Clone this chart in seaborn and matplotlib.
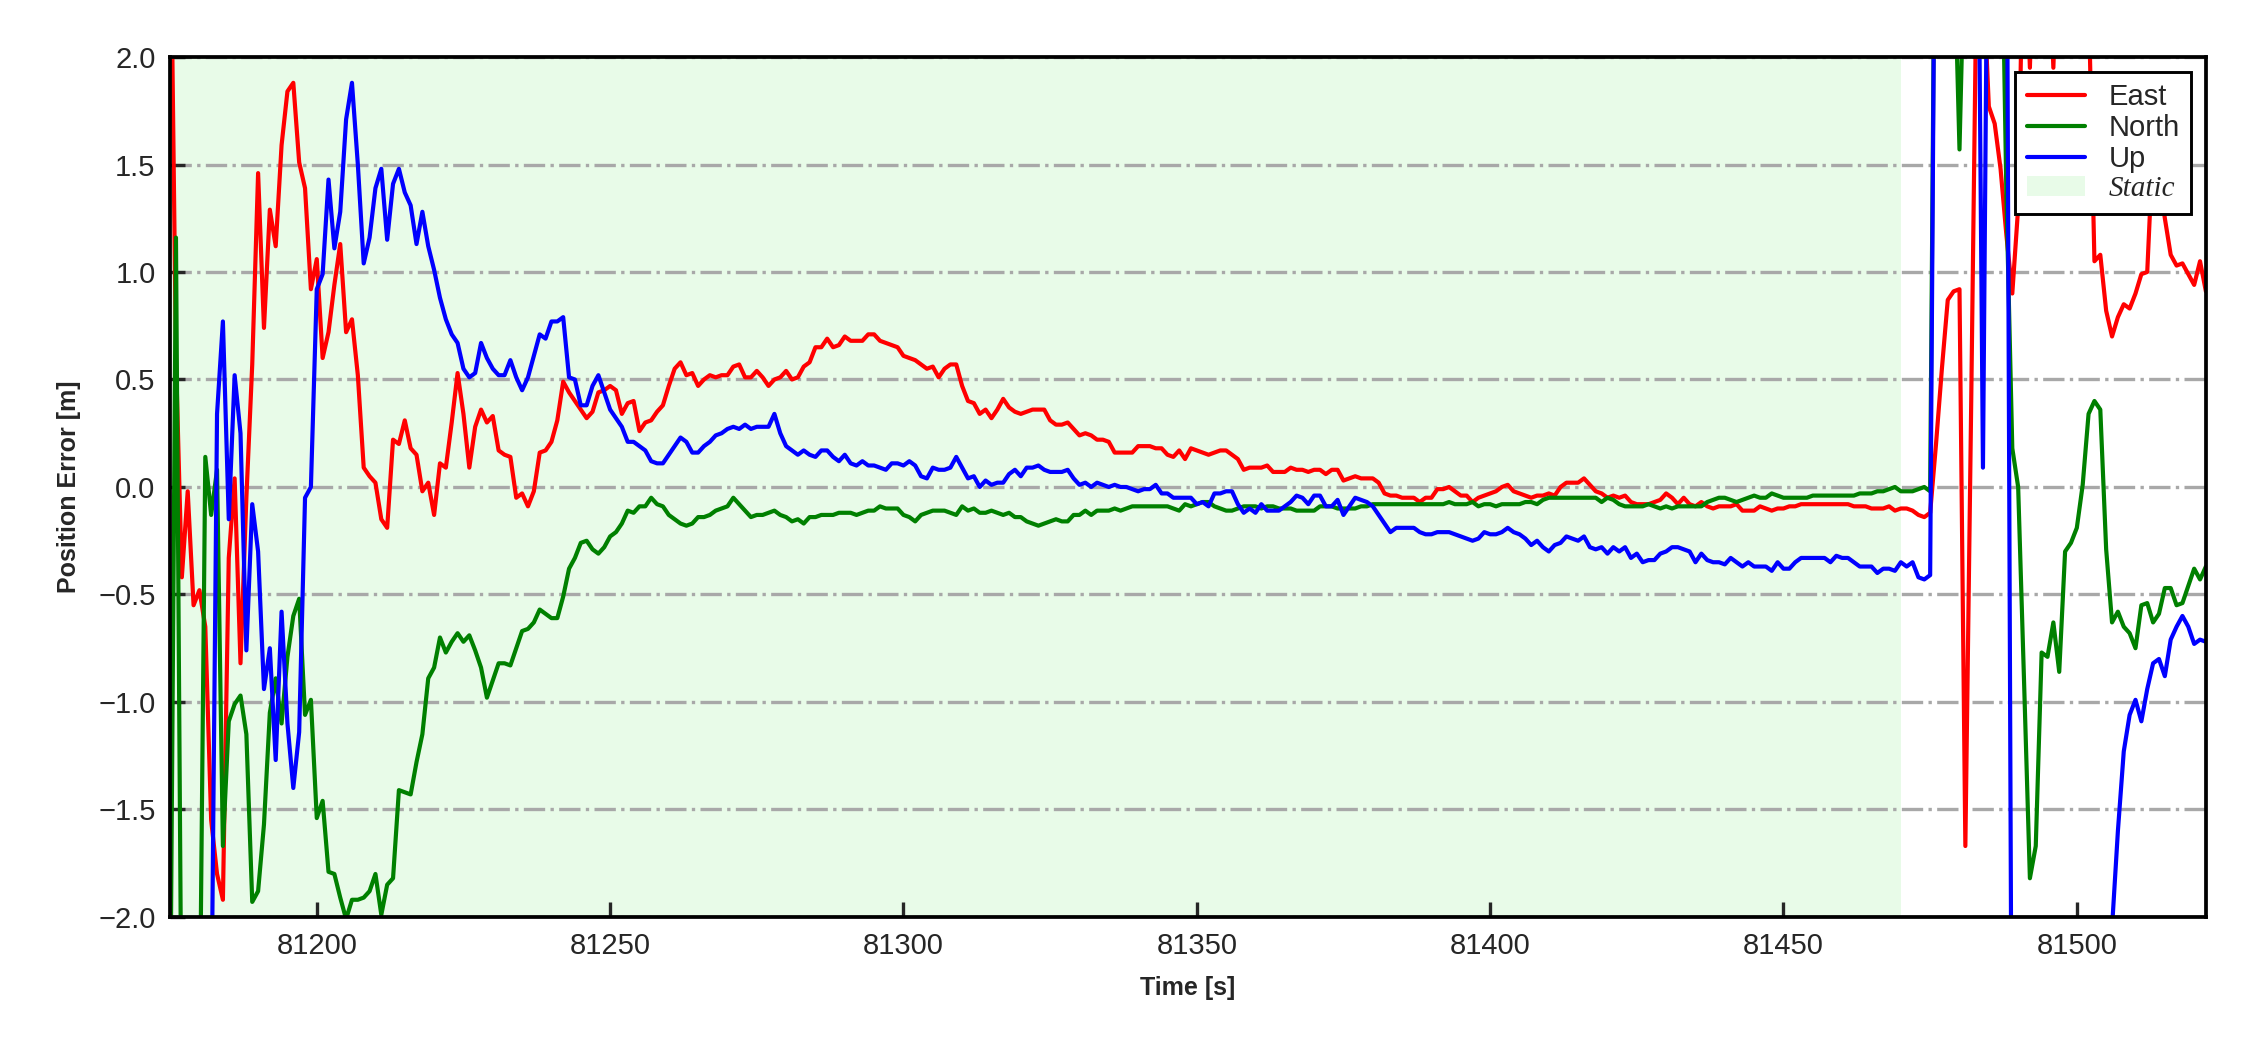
#%% import libraries
import numpy as np
import pandas as pd
import seaborn as sns
import matplotlib.pyplot as plt
from matplotlib.patches import Patch

#%% data (position error per epoch, 1 s sampling)
t_start, t_end = 81175, 81522
static_end = 81470
x_ticks = [81200, 81250, 81300, 81350, 81400, 81450, 81500]
y_ticks = [-2.0, -1.5, -1.0, -0.5, 0.0, 0.5, 1.0, 1.5, 2.0]

east = [
    2.90, 0.60, -0.42, -0.02, -0.55, -0.48, -0.65, -1.55, -1.80, -1.92,
    -0.33, 0.04, -0.82, -0.05, 0.57, 1.46, 0.74, 1.29, 1.12, 1.59,
    1.84, 1.88, 1.51, 1.39, 0.92, 1.06, 0.60, 0.72, 0.94, 1.13,
    0.72, 0.78, 0.52, 0.09, 0.05, 0.02, -0.15, -0.19, 0.22, 0.20,
    0.31, 0.18, 0.15, -0.02, 0.02, -0.13, 0.11, 0.09, 0.30, 0.53,
    0.34, 0.09, 0.28, 0.36, 0.30, 0.33, 0.17, 0.15, 0.14, -0.05,
    -0.03, -0.09, -0.02, 0.16, 0.17, 0.21, 0.31, 0.49, 0.44, 0.40,
    0.36, 0.32, 0.35, 0.44, 0.45, 0.47, 0.45, 0.34, 0.39, 0.40,
    0.26, 0.30, 0.31, 0.35, 0.38, 0.47, 0.55, 0.58, 0.52, 0.53,
    0.47, 0.50, 0.52, 0.51, 0.52, 0.52, 0.56, 0.57, 0.51, 0.51,
    0.54, 0.51, 0.47, 0.50, 0.51, 0.54, 0.50, 0.51, 0.56, 0.58,
    0.65, 0.65, 0.69, 0.65, 0.66, 0.70, 0.68, 0.68, 0.68, 0.71,
    0.71, 0.68, 0.67, 0.66, 0.65, 0.61, 0.60, 0.59, 0.57, 0.55,
    0.56, 0.51, 0.55, 0.57, 0.57, 0.47, 0.40, 0.39, 0.34, 0.36,
    0.32, 0.36, 0.41, 0.37, 0.35, 0.34, 0.35, 0.36, 0.36, 0.36,
    0.31, 0.29, 0.29, 0.30, 0.27, 0.24, 0.25, 0.24, 0.22, 0.22,
    0.21, 0.16, 0.16, 0.16, 0.16, 0.19, 0.19, 0.19, 0.18, 0.18,
    0.15, 0.14, 0.17, 0.13, 0.18, 0.17, 0.16, 0.15, 0.16, 0.17,
    0.17, 0.15, 0.13, 0.08, 0.09, 0.09, 0.09, 0.10, 0.07, 0.07,
    0.07, 0.09, 0.08, 0.08, 0.07, 0.08, 0.08, 0.06, 0.08, 0.08,
    0.03, 0.04, 0.05, 0.04, 0.04, 0.04, 0.02, -0.03, -0.04, -0.04,
    -0.05, -0.05, -0.05, -0.07, -0.05, -0.05, -0.01, -0.01, 0.00, -0.02,
    -0.04, -0.04, -0.07, -0.05, -0.04, -0.03, -0.02, 0.00, 0.01, -0.02,
    -0.03, -0.04, -0.05, -0.04, -0.04, -0.03, -0.04, 0.00, 0.02, 0.02,
    0.02, 0.04, 0.01, -0.02, -0.03, -0.05, -0.04, -0.05, -0.04, -0.07,
    -0.08, -0.08, -0.08, -0.07, -0.06, -0.03, -0.05, -0.08, -0.05, -0.08,
    -0.09, -0.07, -0.09, -0.10, -0.09, -0.09, -0.09, -0.08, -0.11, -0.11,
    -0.11, -0.09, -0.10, -0.11, -0.10, -0.10, -0.09, -0.09, -0.08, -0.08,
    -0.08, -0.08, -0.08, -0.08, -0.08, -0.08, -0.08, -0.09, -0.09, -0.09,
    -0.10, -0.10, -0.10, -0.09, -0.11, -0.10, -0.10, -0.11, -0.13, -0.14,
    -0.12, 0.20, 0.55, 0.87, 0.91, 0.92, -1.67, 0.40, 2.60, 2.40,
    1.77, 1.69, 1.48, 1.17, 0.90, 1.30, 2.80, 1.95, 2.90, 3.10,
    2.70, 1.95, 2.80, 3.00, 3.20, 2.90, 2.60, 2.30, 1.05, 1.08,
    0.82, 0.70, 0.79, 0.85, 0.83, 0.90, 0.99, 1.00, 1.60, 1.45,
    1.25, 1.08, 1.03, 1.04, 0.99, 0.94, 1.05, 0.91,
]

north = [
    -2.60, 1.16, -2.80, -3.00, -3.00, -2.70, 0.14, -0.13, 0.08, -1.67,
    -1.09, -1.01, -0.97, -1.15, -1.93, -1.88, -1.57, -1.05, -0.89, -1.10,
    -0.79, -0.60, -0.52, -1.06, -0.99, -1.54, -1.46, -1.79, -1.80, -1.91,
    -2.01, -1.92, -1.92, -1.91, -1.88, -1.80, -1.99, -1.85, -1.82, -1.41,
    -1.42, -1.43, -1.28, -1.15, -0.89, -0.84, -0.70, -0.77, -0.72, -0.68,
    -0.72, -0.69, -0.76, -0.84, -0.98, -0.90, -0.82, -0.82, -0.83, -0.75,
    -0.67, -0.66, -0.63, -0.57, -0.59, -0.61, -0.61, -0.51, -0.38, -0.33,
    -0.26, -0.25, -0.29, -0.31, -0.28, -0.23, -0.21, -0.17, -0.11, -0.12,
    -0.09, -0.09, -0.05, -0.08, -0.09, -0.13, -0.15, -0.17, -0.18, -0.17,
    -0.14, -0.14, -0.13, -0.11, -0.10, -0.09, -0.05, -0.08, -0.11, -0.14,
    -0.13, -0.13, -0.12, -0.11, -0.13, -0.14, -0.16, -0.15, -0.17, -0.14,
    -0.14, -0.13, -0.13, -0.13, -0.12, -0.12, -0.12, -0.13, -0.12, -0.11,
    -0.11, -0.09, -0.10, -0.10, -0.10, -0.13, -0.14, -0.16, -0.13, -0.12,
    -0.11, -0.11, -0.11, -0.12, -0.13, -0.09, -0.11, -0.10, -0.12, -0.12,
    -0.11, -0.12, -0.13, -0.12, -0.14, -0.14, -0.16, -0.17, -0.18, -0.17,
    -0.16, -0.15, -0.16, -0.16, -0.13, -0.13, -0.11, -0.13, -0.11, -0.11,
    -0.11, -0.10, -0.11, -0.10, -0.09, -0.09, -0.09, -0.09, -0.09, -0.09,
    -0.09, -0.10, -0.11, -0.08, -0.09, -0.08, -0.07, -0.07, -0.09, -0.10,
    -0.11, -0.11, -0.10, -0.09, -0.09, -0.09, -0.10, -0.09, -0.09, -0.10,
    -0.10, -0.10, -0.11, -0.11, -0.11, -0.11, -0.09, -0.09, -0.09, -0.10,
    -0.10, -0.10, -0.10, -0.09, -0.09, -0.08, -0.08, -0.08, -0.08, -0.08,
    -0.08, -0.08, -0.08, -0.08, -0.08, -0.08, -0.08, -0.08, -0.07, -0.08,
    -0.08, -0.08, -0.07, -0.09, -0.08, -0.08, -0.09, -0.08, -0.08, -0.08,
    -0.08, -0.07, -0.07, -0.08, -0.06, -0.05, -0.05, -0.05, -0.05, -0.05,
    -0.05, -0.05, -0.05, -0.05, -0.07, -0.05, -0.06, -0.08, -0.09, -0.09,
    -0.09, -0.09, -0.08, -0.09, -0.10, -0.09, -0.10, -0.09, -0.09, -0.09,
    -0.09, -0.09, -0.07, -0.06, -0.05, -0.05, -0.06, -0.07, -0.06, -0.05,
    -0.04, -0.05, -0.05, -0.03, -0.04, -0.05, -0.05, -0.05, -0.05, -0.05,
    -0.04, -0.04, -0.04, -0.04, -0.04, -0.04, -0.04, -0.04, -0.03, -0.03,
    -0.03, -0.02, -0.02, -0.01, 0.00, -0.02, -0.02, -0.02, -0.01, 0.00,
    -0.02, 3.50, 3.20, 2.90, 2.60, 1.57, 2.70, 3.00, 3.30, 3.10,
    2.90, 3.20, 3.00, 1.35, 0.18, 0.00, -0.90, -1.82, -1.67, -0.77,
    -0.79, -0.63, -0.86, -0.30, -0.26, -0.19, 0.01, 0.34, 0.40, 0.36,
    -0.29, -0.63, -0.58, -0.65, -0.68, -0.75, -0.55, -0.54, -0.63, -0.59,
    -0.47, -0.47, -0.55, -0.54, -0.46, -0.38, -0.43, -0.37,
]

up = [
    -3.20, -3.40, -3.10, -3.30, -3.00, -3.20, -2.90, -2.60, 0.34, 0.77,
    -0.15, 0.52, 0.25, -0.76, -0.08, -0.30, -0.94, -0.75, -1.27, -0.58,
    -1.10, -1.40, -1.14, -0.05, 0.00, 0.92, 0.99, 1.43, 1.11, 1.28,
    1.71, 1.88, 1.50, 1.04, 1.16, 1.39, 1.48, 1.15, 1.41, 1.48,
    1.37, 1.31, 1.13, 1.28, 1.12, 1.01, 0.88, 0.78, 0.71, 0.67,
    0.55, 0.51, 0.53, 0.67, 0.60, 0.55, 0.52, 0.52, 0.59, 0.51,
    0.45, 0.51, 0.61, 0.71, 0.69, 0.77, 0.77, 0.79, 0.51, 0.50,
    0.38, 0.38, 0.47, 0.52, 0.44, 0.36, 0.32, 0.28, 0.21, 0.21,
    0.19, 0.17, 0.12, 0.11, 0.11, 0.15, 0.19, 0.23, 0.21, 0.16,
    0.16, 0.19, 0.21, 0.24, 0.25, 0.27, 0.28, 0.27, 0.29, 0.27,
    0.28, 0.28, 0.28, 0.34, 0.25, 0.19, 0.17, 0.15, 0.17, 0.15,
    0.14, 0.17, 0.17, 0.14, 0.12, 0.15, 0.11, 0.10, 0.12, 0.10,
    0.10, 0.09, 0.08, 0.11, 0.11, 0.10, 0.12, 0.10, 0.05, 0.04,
    0.09, 0.08, 0.08, 0.09, 0.14, 0.09, 0.04, 0.05, 0.00, 0.03,
    0.01, 0.02, 0.02, 0.06, 0.08, 0.05, 0.09, 0.09, 0.10, 0.08,
    0.07, 0.07, 0.07, 0.08, 0.04, 0.01, 0.02, 0.00, 0.02, 0.01,
    0.00, 0.01, 0.00, 0.00, -0.01, -0.02, -0.01, -0.01, 0.01, -0.03,
    -0.03, -0.05, -0.05, -0.05, -0.05, -0.08, -0.07, -0.09, -0.03, -0.03,
    -0.02, -0.02, -0.08, -0.12, -0.10, -0.12, -0.08, -0.11, -0.11, -0.11,
    -0.09, -0.07, -0.04, -0.05, -0.08, -0.04, -0.04, -0.09, -0.09, -0.06,
    -0.13, -0.09, -0.05, -0.06, -0.07, -0.09, -0.13, -0.17, -0.21, -0.19,
    -0.19, -0.19, -0.19, -0.21, -0.22, -0.22, -0.21, -0.21, -0.21, -0.22,
    -0.23, -0.24, -0.25, -0.24, -0.21, -0.22, -0.22, -0.21, -0.19, -0.21,
    -0.22, -0.24, -0.27, -0.25, -0.28, -0.30, -0.27, -0.26, -0.23, -0.24,
    -0.25, -0.23, -0.28, -0.29, -0.28, -0.31, -0.28, -0.30, -0.28, -0.33,
    -0.31, -0.35, -0.34, -0.34, -0.31, -0.30, -0.28, -0.28, -0.29, -0.30,
    -0.35, -0.31, -0.34, -0.35, -0.35, -0.36, -0.33, -0.35, -0.37, -0.35,
    -0.37, -0.37, -0.37, -0.39, -0.35, -0.38, -0.38, -0.35, -0.33, -0.33,
    -0.33, -0.33, -0.33, -0.35, -0.32, -0.33, -0.33, -0.35, -0.37, -0.37,
    -0.37, -0.40, -0.38, -0.38, -0.39, -0.35, -0.37, -0.35, -0.42, -0.43,
    -0.41, 3.60, 3.80, 4.00, 3.50, 3.90, 4.20, 3.70, 3.40, 0.09,
    3.50, 3.80, 3.60, 3.20, -3.50, -3.80, -4.00, -3.60, -3.90, -4.20,
    -3.70, -3.50, -3.80, -4.00, -3.60, -3.40, -3.20, -3.00, -2.80, -2.60,
    -2.40, -2.05, -1.60, -1.23, -1.06, -0.99, -1.09, -0.94, -0.82, -0.80,
    -0.88, -0.71, -0.65, -0.60, -0.65, -0.73, -0.71, -0.72,
]

colors = {'East': 'red', 'North': 'green', 'Up': 'blue'}
static_color = '#e8fbe8'

#%% long-form DataFrame
epochs = np.arange(t_start, t_end + 1)
df = pd.DataFrame({
    'Time': np.concatenate([epochs] * 3),
    'Error': east + north + up,
    'Component': ['East'] * len(east) + ['North'] * len(north) + ['Up'] * len(up),
})

#%% plot setup
sns.set_style('ticks')
plt.rcParams['font.family'] = ['Liberation Sans', 'DejaVu Sans']

fig, ax = plt.subplots(figsize=(7.5, 3.5), dpi=300)
fig.subplots_adjust(left=0.0756, right=0.9804, top=0.9457, bottom=0.1267)

ax.axvspan(t_start, static_end, color=static_color, lw=0, zorder=0)
ax = sns.lineplot(data=df, x='Time', y='Error', hue='Component', palette=colors,
                  estimator=None, linewidth=1.0, ax=ax)

ax.set_xlim(t_start, t_end)
ax.set_ylim(-2.0, 2.0)
ax.set_xticks(x_ticks)
ax.set_xticklabels([str(t) for t in x_ticks])
ax.set_yticks(y_ticks)
ax.yaxis.grid(True, linestyle='-.', color='#a8a8a8', linewidth=0.8)
ax.set_axisbelow(True)

ax.tick_params(direction='in', length=3.5, width=0.8, labelsize=7)
for s in ax.spines.values():
    s.set_linewidth(0.9)
    s.set_color('black')

ax.set_xlabel('Time [s]', fontsize=6, fontweight='bold')
ax.set_ylabel('Position Error [m]', fontsize=6, fontweight='bold')

#%% legend
handles, labels = ax.get_legend_handles_labels()
handles.append(Patch(facecolor=static_color, edgecolor='none'))
labels.append('Static')
leg = ax.legend(handles, labels, loc='upper right', fancybox=False, framealpha=1,
                edgecolor='black', fontsize=7, labelspacing=0.1, borderaxespad=0.5)
leg.get_frame().set_linewidth(0.7)
leg.get_texts()[3].set_family('Liberation Serif')
leg.get_texts()[3].set_style('italic')

plt.savefig('out.png', dpi=300)
